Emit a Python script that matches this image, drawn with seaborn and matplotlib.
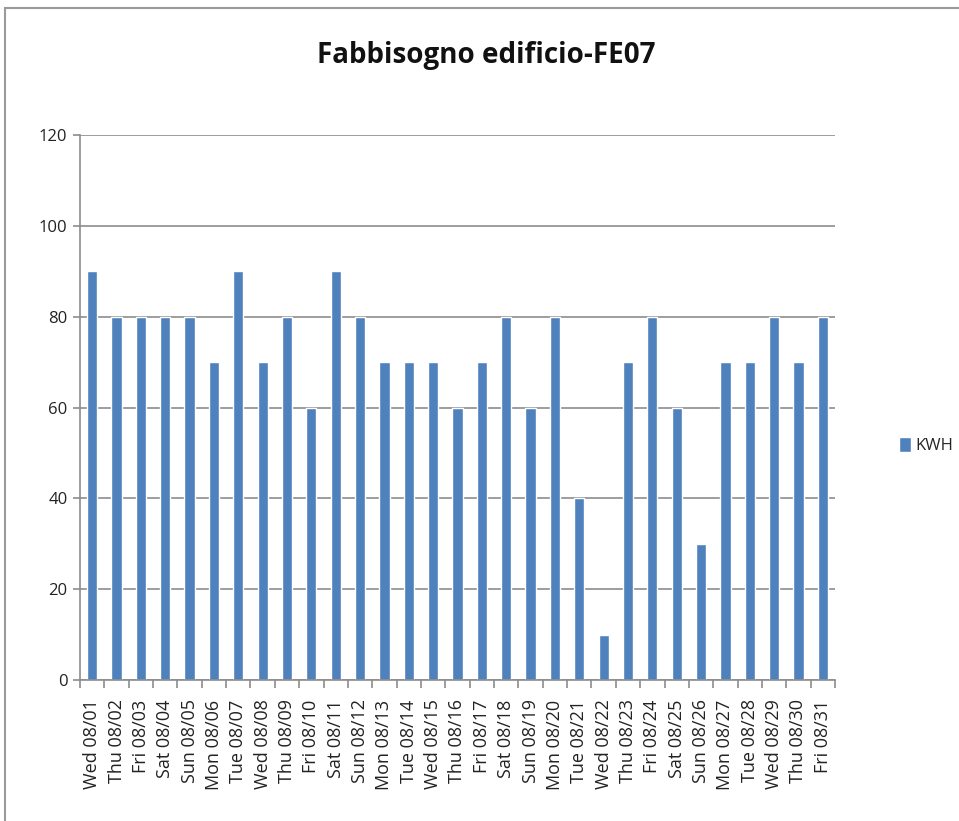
import numpy as np
import pandas as pd
import matplotlib
matplotlib.use("Agg")
import matplotlib.pyplot as plt
from matplotlib.patches import Rectangle
import seaborn as sns

days = ["Wed 08/01", "Thu 08/02", "Fri 08/03", "Sat 08/04", "Sun 08/05", "Mon 08/06",
        "Tue 08/07", "Wed 08/08", "Thu 08/09", "Fri 08/10", "Sat 08/11", "Sun 08/12",
        "Mon 08/13", "Tue 08/14", "Wed 08/15", "Thu 08/16", "Fri 08/17", "Sat 08/18",
        "Sun 08/19", "Mon 08/20", "Tue 08/21", "Wed 08/22", "Thu 08/23", "Fri 08/24",
        "Sat 08/25", "Sun 08/26", "Mon 08/27", "Tue 08/28", "Wed 08/29", "Thu 08/30",
        "Fri 08/31"]
kwh = [90, 80, 80, 80, 80, 70, 90, 70, 80, 60, 90, 80, 70, 70, 70, 60, 70, 80,
       60, 80, 40, 10, 70, 80, 60, 30, 70, 70, 80, 70, 80]
y_ticks = [0, 20, 40, 60, 80, 100, 120]
title = "Fabbisogno edificio-FE07"
series_name = "KWH"

sns.set_style("white")
plt.rcParams["font.family"] = ["Open Sans", "DejaVu Sans"]

df = pd.DataFrame({"day": days, "kwh": kwh})

fig = plt.figure(figsize=(9.59, 8.21), dpi=100)
ax = fig.add_axes([0.0834, 0.1717, 0.7873, 0.6639])

bar_color = "#4F81BD"
sns.barplot(data=df, x="day", y="kwh", color=bar_color, saturation=1,
            width=0.42, ax=ax, label=series_name)

ax.set_xlim(-0.5, len(days) - 0.5)
ax.set_ylim(0, 120)
ax.set_yticks(y_ticks)
ax.set_xlabel("")
ax.set_ylabel("")

grid_col = "#8c8c8c"
ax.yaxis.grid(True, color=grid_col, linewidth=1.2)
ax.set_axisbelow(True)
for s in ["top", "right"]:
    ax.spines[s].set_visible(False)
for s in ["left", "bottom"]:
    ax.spines[s].set_color(grid_col)
    ax.spines[s].set_linewidth(1.2)

ax.tick_params(axis="y", length=5, width=1.2, color=grid_col, labelsize=12,
               labelcolor="#222222", pad=4, left=True)
ax.tick_params(axis="x", which="major", length=0, labelsize=13,
               labelcolor="#222222", pad=14, rotation=90)
ax.set_xticks(np.arange(-0.5, len(days), 1.0), minor=True)
ax.tick_params(axis="x", which="minor", length=6, width=1.2, color=grid_col,
               bottom=True)

fig.text(0.507, 0.932, title, ha="center", va="center", fontsize=20,
         fontweight="bold", family=["Liberation Sans Narrow", "Open Sans", "DejaVu Sans"],
         color="#111111")

leg = ax.legend(loc="center left", bbox_to_anchor=(1.065, 0.43), frameon=False,
                fontsize=12, handlelength=0.7, handleheight=1.0, handletextpad=0.3)

fig.patches.append(Rectangle((5 / 959, -0.01), 1.0, 1 - 8 / 821 + 0.01,
                             transform=fig.transFigure, fill=False,
                             edgecolor="#9a9a9a", linewidth=1.5))

fig.savefig("out.png", dpi=100)
